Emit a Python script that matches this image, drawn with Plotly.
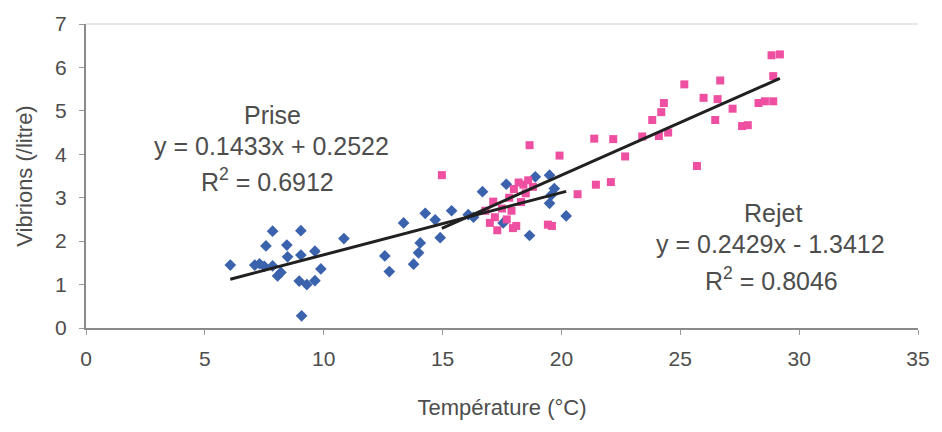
import plotly.graph_objects as go
import numpy as np

# Prise (intake) samples: temperature (°C) and vibrio count (/litre)
prise_temp = [6.07, 7.85, 9.04, 7.57, 8.45, 7.10, 7.30, 7.50, 7.85, 8.48, 9.04, 9.63,
              8.06, 8.20, 9.88, 8.97, 9.29, 9.63, 9.07, 10.85, 12.57, 12.76, 13.36,
              13.78, 13.99, 14.06, 14.27, 14.69, 14.90, 15.38, 16.08, 16.68, 17.68,
              18.66, 19.50, 19.70, 19.50, 20.20, 18.90, 17.55, 19.57, 16.30]
prise_vib = [1.45, 2.23, 2.24, 1.89, 1.91, 1.45, 1.48, 1.42, 1.43, 1.64, 1.68, 1.77,
             1.20, 1.28, 1.36, 1.08, 1.00, 1.09, 0.28, 2.06, 1.66, 1.30, 2.42,
             1.47, 1.73, 1.96, 2.64, 2.49, 2.08, 2.70, 2.61, 3.14, 3.31,
             2.13, 3.52, 3.21, 2.87, 2.58, 3.48, 2.42, 3.06, 2.55]

# Rejet (discharge) samples
rejet_temp = [14.97, 18.66, 19.92, 21.38, 22.18, 21.45, 22.08, 20.68, 19.43, 19.60,
              17.96, 17.13, 16.99, 17.20, 17.50, 17.80, 18.00, 18.20, 18.40, 18.50,
              18.30, 17.90, 17.70, 16.80, 18.80, 18.10, 18.60, 17.30, 22.68, 23.40,
              23.82, 24.20, 24.31, 24.10, 24.49, 25.17, 25.70, 25.98, 26.68, 26.57,
              26.47, 27.20, 27.60, 27.84, 28.29, 28.56, 28.91, 28.91, 28.84, 29.19]
rejet_vib = [3.52, 4.21, 3.97, 4.36, 4.35, 3.30, 3.36, 3.08, 2.38, 2.35,
             2.30, 2.91, 2.42, 2.55, 2.75, 3.00, 3.20, 3.35, 3.30, 3.10,
             2.90, 2.70, 2.50, 2.70, 3.25, 2.35, 3.40, 2.25, 3.95, 4.41,
             4.79, 4.97, 5.18, 4.42, 4.50, 5.61, 3.73, 5.30, 5.70, 5.27,
             4.79, 5.05, 4.65, 4.67, 5.18, 5.22, 5.22, 5.80, 6.28, 6.30]

# Published linear fits (slope, intercept, R²)
prise_fit = (0.1433, 0.2522, 0.6912)
rejet_fit = (0.2429, -1.3412, 0.8046)

x_ticks = [0, 5, 10, 15, 20, 25, 30, 35]
y_ticks = [0, 1, 2, 3, 4, 5, 6, 7]

BLUE = "#3a62ad"
PINK = "#ee4fa0"
TEXT = "#4d4d4d"
FONT = "Liberation Sans, Arial, sans-serif"

fig = go.Figure()

fig.add_trace(go.Scatter(
    x=prise_temp, y=prise_vib, mode="markers", name="Prise",
    marker=dict(symbol="diamond", size=9, color=BLUE, line=dict(width=0)),
))
fig.add_trace(go.Scatter(
    x=rejet_temp, y=rejet_vib, mode="markers", name="Rejet",
    marker=dict(symbol="square", size=8, color=PINK, line=dict(width=0)),
))


def fit_line(xs, slope, intercept):
    xr = np.array([min(xs), max(xs)])
    return xr, slope * xr + intercept


for xs, (a, b, _) in ((prise_temp, prise_fit), (rejet_temp, rejet_fit)):
    lx, ly = fit_line(xs, a, b)
    fig.add_trace(go.Scatter(
        x=lx, y=ly, mode="lines", showlegend=False,
        line=dict(color="#202020", width=3),
    ))


def sign_term(b):
    return f"+ {b:.4f}" if b >= 0 else f"- {abs(b):.4f}"


# (name, fit, label position, equation position, R² position) in data units
labels = [
    ("Prise", prise_fit, (7.85, 4.91), (7.79, 4.20), (7.65, 3.40)),
    ("Rejet", rejet_fit, (28.92, 2.64), (28.80, 1.93), (28.85, 1.13)),
]
ann_font = dict(size=25, color=TEXT, family=FONT)
for name, (a, b, r2), p_name, p_eq, p_r2 in labels:
    fig.add_annotation(x=p_name[0], y=p_name[1], text=name, showarrow=False, font=ann_font)
    fig.add_annotation(x=p_eq[0], y=p_eq[1], text=f"y = {a:.4f}x {sign_term(b)}",
                       showarrow=False, font=ann_font)
    fig.add_annotation(x=p_r2[0], y=p_r2[1], text=f"R<sup>2</sup> = {r2:.4f}",
                       showarrow=False, font=ann_font)

axis_common = dict(
    showgrid=False, zeroline=False, showline=True, linecolor="#8a8a8a", linewidth=2,
    ticks="outside", ticklen=5, tickcolor="#9a9a9a", tickwidth=1,
    tickfont=dict(size=21, color=TEXT, family=FONT),
    mirror=False,
)

fig.update_layout(
    width=942, height=432,
    margin=dict(l=86, r=20, t=20, b=104),
    paper_bgcolor="white", plot_bgcolor="white",
    showlegend=False,
    xaxis=dict(range=[0, 35], tickvals=x_ticks, ticklabelstandoff=6,
               title=dict(text="Température (°C)", standoff=30,
                          font=dict(size=22, color=TEXT, family=FONT)),
               **axis_common),
    yaxis=dict(range=[0, 7], tickvals=y_ticks, ticklabelstandoff=8,
               title=dict(text="Vibrions (/litre)", standoff=16,
                          font=dict(size=22, color=TEXT, family=FONT)),
               **axis_common),
    shapes=[dict(type="line", xref="paper", yref="paper", x0=0, x1=1, y0=1, y1=1,
                 line=dict(color="#d0d0d0", width=1))],
)

fig.write_html("out.html")
